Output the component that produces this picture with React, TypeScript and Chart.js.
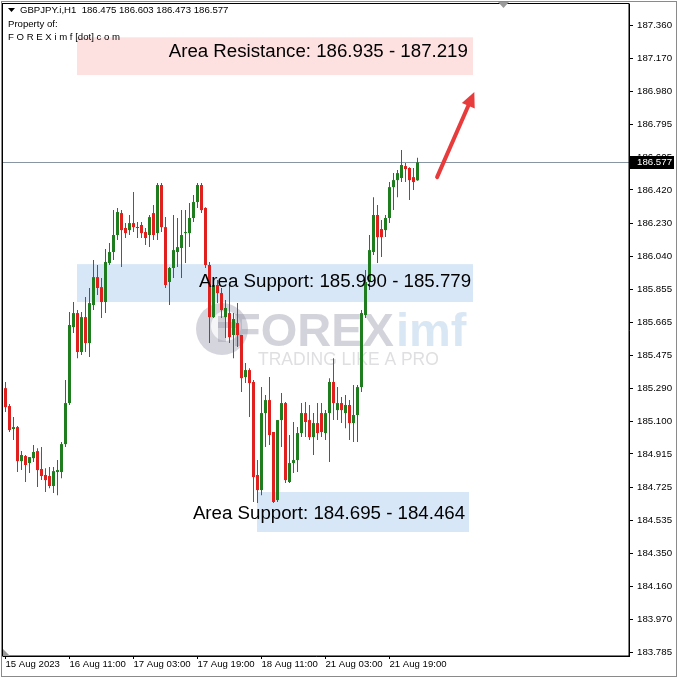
import React, { useEffect, useRef } from "react";
import { Chart, registerables } from "chart.js";

Chart.register(...registerables);

// ---- data (GBPJPY.i, H1, first bar 15 Aug 2023 19:00) ----
const opens = [
  185.290, 185.188, 185.057, 185.068, 184.874, 184.903, 184.863, 184.891, 184.931, 184.829,
  184.795, 184.789, 184.732, 184.812, 184.812, 184.971, 185.205, 185.638, 185.718, 185.496,
  185.695, 185.547, 185.764, 185.923, 185.866, 185.781, 186.003, 186.066, 186.163, 186.288,
  186.203, 186.191, 186.231, 186.203, 186.220, 186.180, 186.163, 186.288, 186.174, 186.448,
  186.208, 185.895, 185.975, 186.066, 186.089, 186.174, 186.174, 186.260, 186.351, 186.448,
  186.317, 185.992, 185.695, 185.878, 185.832, 185.695, 185.718, 185.593, 185.661, 185.593,
  185.353, 185.393, 185.325, 184.795, 184.709, 185.148, 185.222, 185.040, 184.652, 185.108,
  185.205, 184.755, 184.863, 184.880, 185.034, 185.148, 185.108, 185.011, 185.091, 185.148,
  185.034, 185.148, 185.325, 185.165, 185.205, 185.148, 185.194, 185.091, 185.137, 185.296,
  185.707, 185.895, 186.066, 186.277, 186.197, 186.191, 186.260, 186.436, 186.476, 186.488,
  186.556, 186.545, 186.493, 186.475,
];
const highs = [
  185.325, 185.199, 185.125, 185.074, 184.931, 184.909, 184.897, 184.966, 184.948, 184.954,
  184.834, 184.840, 184.840, 184.880, 184.983, 185.336, 185.724, 185.781, 185.735, 185.724,
  185.809, 185.861, 186.020, 185.992, 185.918, 186.083, 186.117, 186.305, 186.317, 186.305,
  186.231, 186.277, 186.408, 186.237, 186.237, 186.203, 186.277, 186.334, 186.459, 186.459,
  186.265, 185.980, 186.277, 186.260, 186.305, 186.305, 186.345, 186.391, 186.459, 186.459,
  186.322, 186.009, 185.889, 185.906, 185.861, 185.792, 185.878, 185.718, 185.775, 185.593,
  185.433, 185.404, 185.336, 184.880, 185.296, 185.251, 185.353, 185.040, 185.108, 185.262,
  185.211, 185.023, 185.097, 185.068, 185.205, 185.211, 185.194, 185.148, 185.205, 185.205,
  185.165, 185.347, 185.461, 185.296, 185.239, 185.251, 185.222, 185.308, 185.308, 185.735,
  185.963, 186.163, 186.379, 186.334, 186.248, 186.277, 186.465, 186.516, 186.533, 186.647,
  186.573, 186.550, 186.545, 186.603,
];
const lows = [
  185.154, 185.040, 184.994, 184.812, 184.823, 184.755, 184.806, 184.869, 184.726, 184.766,
  184.698, 184.720, 184.692, 184.680, 184.777, 184.954, 185.194, 185.604, 185.461, 185.479,
  185.496, 185.467, 185.735, 185.821, 185.690, 185.718, 185.992, 186.020, 186.134, 185.980,
  186.146, 186.163, 186.180, 186.146, 186.146, 186.106, 186.094, 186.134, 186.134, 186.180,
  185.861, 185.764, 185.918, 185.980, 185.918, 186.003, 186.094, 186.237, 186.317, 186.288,
  185.975, 185.547, 185.690, 185.775, 185.690, 185.576, 185.547, 185.461, 185.524, 185.268,
  185.319, 185.125, 184.641, 184.635, 184.680, 184.954, 184.966, 184.635, 184.641, 184.954,
  184.749, 184.749, 184.806, 184.812, 185.011, 185.011, 184.994, 184.909, 184.994, 185.011,
  184.994, 184.869, 185.108, 185.108, 185.091, 185.062, 184.994, 184.983, 184.983, 185.268,
  185.690, 185.849, 186.049, 186.003, 186.037, 186.151, 186.231, 186.305, 186.379, 186.465,
  186.465, 186.362, 186.419, 186.473,
];
const closes = [
  185.182, 185.051, 185.068, 184.874, 184.909, 184.852, 184.897, 184.926, 184.823, 184.789,
  184.766, 184.732, 184.817, 184.823, 184.971, 185.205, 185.650, 185.718, 185.496, 185.695,
  185.547, 185.775, 185.923, 185.861, 185.781, 186.009, 186.066, 186.163, 186.294, 186.191,
  186.174, 186.231, 186.208, 186.208, 186.174, 186.146, 186.265, 186.163, 186.448, 186.208,
  185.878, 185.975, 186.077, 186.094, 186.163, 186.180, 186.260, 186.351, 186.448, 186.305,
  185.992, 185.695, 185.878, 185.832, 185.735, 185.747, 185.581, 185.684, 185.593, 185.347,
  185.393, 185.319, 184.783, 184.709, 185.148, 185.222, 185.023, 184.641, 185.108, 185.205,
  184.766, 184.863, 184.880, 185.034, 185.148, 185.097, 185.011, 185.091, 185.034, 185.040,
  185.148, 185.325, 185.205, 185.205, 185.165, 185.194, 185.091, 185.137, 185.296, 185.718,
  185.895, 186.077, 186.277, 186.151, 186.151, 186.260, 186.436, 186.476, 186.516, 186.562,
  186.539, 186.476, 186.465, 186.577,
];

const xTickIndex = [0, 16, 32, 48, 64, 80, 96];
const xTickLabels = [
  "15 Aug 2023", "16 Aug 11:00", "17 Aug 03:00", "17 Aug 19:00",
  "18 Aug 11:00", "21 Aug 03:00", "21 Aug 19:00",
];
const yTickValues = [
  187.360, 187.170, 186.980, 186.795, 186.605, 186.420, 186.230, 186.040, 185.855, 185.665,
  185.475, 185.290, 185.100, 184.915, 184.725, 184.535, 184.350, 184.160, 183.970, 183.785,
];
const currentPrice = 186.577;
const headerText = "GBPJPY.i,H1  186.475 186.603 186.473 186.577";

// zones (bar index range, price range) and their captions
const zoneLabels = [
  "Area Resistance: 186.935 - 187.219",
  "Area Support: 185.990 - 185.779",
  "Area Support: 184.695 - 184.464",
];
const zoneStart = [17.875, 17.875, 62.875];
const zoneEnd = [116.875, 116.875, 115.875];
const zoneTop = [187.290, 185.997, 184.698];
const zoneBottom = [187.075, 185.781, 184.470];
const zoneLabelX = [115.6, 116.4, 114.9];
const zoneLabelY = [187.206, 185.895, 184.571];

const arrowFrom = [107.9, 186.493];
const arrowTo = [117.2, 186.978];

const GREEN = "#1f7d1f";
const RED = "#e0201e";
const FONT = "'Liberation Sans', Arial, sans-serif";

const overlayPlugin = {
  id: "overlay",
  beforeDraw(chart: any) {
    const { ctx, width, height } = chart;
    ctx.save();
    ctx.fillStyle = "#ffffff";
    ctx.fillRect(0, 0, width, height);
    ctx.restore();
  },
  beforeDatasetsDraw(chart: any) {
    const { ctx, chartArea: a, scales } = chart;
    const x = scales.x, y = scales.y;
    ctx.save();
    ctx.beginPath();
    ctx.rect(a.left, a.top, a.right - a.left, a.bottom - a.top);
    ctx.clip();
    const zoneColors = ["#fde0e0", "#d7e7f7", "#d7e7f7"];
    zoneTop.forEach((t, i) => {
      const x0 = x.getPixelForValue(zoneStart[i]);
      const x1 = x.getPixelForValue(zoneEnd[i]);
      const y0 = y.getPixelForValue(t);
      const y1 = y.getPixelForValue(zoneBottom[i]);
      ctx.fillStyle = zoneColors[i];
      ctx.fillRect(x0, y0, x1 - x0, y1 - y0);
    });

    // watermark
    ctx.fillStyle = "rgba(150,150,170,0.40)";
    ctx.beginPath();
    ctx.arc(222, 329, 26, 0, Math.PI * 2);
    ctx.fill();
    ctx.fillStyle = "rgba(255,255,255,0.75)";
    ctx.beginPath();
    ctx.arc(226, 326, 15, 0, Math.PI * 2);
    ctx.fill();
    ctx.fillStyle = "rgba(150,150,170,0.40)";
    ctx.fillRect(218, 316, 8, 26);
    ctx.fillRect(218, 322, 18, 6);
    ctx.textBaseline = "alphabetic";
    ctx.textAlign = "left";
    ctx.font = `bold 47px ${FONT}`;
    ctx.fillStyle = "rgba(140,140,160,0.38)";
    ctx.fillText("FOREX", 232, 346);
    const w = ctx.measureText("FOREX").width;
    ctx.fillStyle = "rgba(120,170,215,0.28)";
    ctx.fillText("imf", 232 + w + 2, 346);
    ctx.font = `17.5px ${FONT}`;
    ctx.fillStyle = "rgba(170,170,180,0.38)";
    ctx.fillText("TRADING LIKE A PRO", 258, 365);

    // current price line
    const py = Math.round(y.getPixelForValue(currentPrice)) + 0.5;
    ctx.strokeStyle = "#8796a2";
    ctx.lineWidth = 1;
    ctx.beginPath();
    ctx.moveTo(a.left, py);
    ctx.lineTo(a.right, py);
    ctx.stroke();
    ctx.restore();
  },
  afterDatasetsDraw(chart: any) {
    const { ctx, scales } = chart;
    const x = scales.x, y = scales.y;
    ctx.save();
    ctx.font = `18.7px ${FONT}`;
    ctx.fillStyle = "#000";
    ctx.textAlign = "right";
    ctx.textBaseline = "middle";
    zoneLabels.forEach((t, i) => {
      ctx.fillText(t, x.getPixelForValue(zoneLabelX[i]), y.getPixelForValue(zoneLabelY[i]));
    });

    // arrow
    const x0 = x.getPixelForValue(arrowFrom[0]);
    const y0 = y.getPixelForValue(arrowFrom[1]);
    const x1 = x.getPixelForValue(arrowTo[0]);
    const y1 = y.getPixelForValue(arrowTo[1]);
    const ang = Math.atan2(y1 - y0, x1 - x0);
    const headLen = 15, headW = 7;
    const bx = x1 - headLen * Math.cos(ang);
    const by = y1 - headLen * Math.sin(ang);
    ctx.strokeStyle = "#e83b3c";
    ctx.fillStyle = "#e83b3c";
    ctx.lineWidth = 4;
    ctx.lineCap = "round";
    ctx.beginPath();
    ctx.moveTo(x0, y0);
    ctx.lineTo(bx, by);
    ctx.stroke();
    ctx.beginPath();
    ctx.moveTo(x1, y1);
    ctx.lineTo(bx + headW * Math.sin(ang), by - headW * Math.cos(ang));
    ctx.lineTo(bx - headW * Math.sin(ang), by + headW * Math.cos(ang));
    ctx.closePath();
    ctx.fill();
    ctx.restore();
  },
  afterDraw(chart: any) {
    const { ctx, chartArea: a, scales, width, height } = chart;
    const y = scales.y;
    ctx.save();
    // plot frame
    ctx.strokeStyle = "#000";
    ctx.lineWidth = 1;
    ctx.strokeRect(a.left - 0.5, a.top - 0.5, a.right - a.left + 0.5, a.bottom - a.top + 0.5);
    // outer border
    ctx.strokeStyle = "#8a8a8a";
    ctx.strokeRect(1.5, 1.5, width - 3, height - 3);

    // current price label
    const py = Math.round(y.getPixelForValue(currentPrice));
    ctx.fillStyle = "#000";
    ctx.fillRect(a.right + 1, py - 6, 44, 13);
    ctx.fillStyle = "#fff";
    ctx.font = `9.7px ${FONT}`;
    ctx.textAlign = "left";
    ctx.textBaseline = "middle";
    ctx.fillText(currentPrice.toFixed(3), a.right + 8, py + 0.5);

    // header texts
    ctx.fillStyle = "#000";
    ctx.beginPath();
    ctx.moveTo(8, 8);
    ctx.lineTo(15, 8);
    ctx.lineTo(11.5, 12);
    ctx.closePath();
    ctx.fill();
    ctx.font = `9.6px ${FONT}`;
    ctx.fillText(headerText, 20, 10.5);
    ctx.fillText("Property of:", 8, 24);
    ctx.fillText("F O R E X i m f [dot] c o m", 8, 37);

    // small shift markers
    ctx.fillStyle = "#9a9a9a";
    ctx.beginPath();
    ctx.moveTo(498, 2);
    ctx.lineTo(509, 2);
    ctx.lineTo(503.5, 8);
    ctx.closePath();
    ctx.fill();
    ctx.beginPath();
    ctx.moveTo(a.left, a.bottom - 7);
    ctx.lineTo(a.left, a.bottom);
    ctx.lineTo(a.left + 7, a.bottom);
    ctx.closePath();
    ctx.fill();
    ctx.restore();
  },
};

export default function App() {
  const canvasRef = useRef<HTMLCanvasElement | null>(null);

  useEffect(() => {
    document.body.style.margin = "0";
    const canvas = canvasRef.current;
    if (!canvas) return;
    const idx = opens.map((_, i) => i);
    const colors = idx.map((i) => (closes[i] >= opens[i] ? GREEN : RED));
    const chart = new Chart(canvas, {
      type: "bar",
      data: {
        datasets: [
          {
            label: "wick",
            data: idx.map((i) => ({ x: i, y: [lows[i], highs[i]] })) as any,
            backgroundColor: colors,
            barThickness: 1,
            grouped: false,
            inflateAmount: 0,
            borderWidth: 0,
            order: 2,
          } as any,
          {
            label: "body",
            data: idx.map((i) => ({
              x: i,
              y: [Math.min(opens[i], closes[i]), Math.max(opens[i], closes[i])],
            })) as any,
            backgroundColor: colors,
            barThickness: 3,
            grouped: false,
            minBarLength: 1,
            inflateAmount: 0,
            borderWidth: 0,
            order: 1,
          } as any,
        ],
      },
      options: {
        animation: false,
        responsive: false,
        devicePixelRatio: 1,
        events: [],
        layout: { padding: { left: 3, top: 4, right: 0, bottom: 0 } },
        plugins: { legend: { display: false }, tooltip: { enabled: false } },
        scales: {
          x: {
            type: "linear",
            min: -0.625,
            max: 155.875,
            offset: false,
            grid: { display: true, drawOnChartArea: false, drawTicks: true, tickLength: 3, color: "#000", offset: false },
            border: { display: true, color: "#000" },
            afterBuildTicks: (s: any) => {
              s.ticks = xTickIndex.map((v) => ({ value: v }));
            },
            afterFit: (s: any) => {
              s.height = 22;
              s.paddingLeft = 0;
              s.paddingRight = 0;
              s.paddingTop = 0;
              s.paddingBottom = 0;
            },
            ticks: {
              autoSkip: false,
              maxRotation: 0,
              minRotation: 0,
              align: "start",
              padding: 0,
              color: "#000",
              font: { family: FONT, size: 9.6 },
              callback: (v: any) => {
                const k = xTickIndex.indexOf(Number(v));
                return k >= 0 ? xTickLabels[k] : "";
              },
            },
          },
          y: {
            type: "linear",
            position: "right",
            min: 183.763,
            max: 187.48,
            grid: { display: true, drawOnChartArea: false, drawTicks: true, tickLength: 4, color: "#000" },
            border: { display: true, color: "#000" },
            afterBuildTicks: (s: any) => {
              s.ticks = yTickValues.map((v) => ({ value: v }));
            },
            afterFit: (s: any) => {
              s.width = 49;
              s.paddingLeft = 0;
              s.paddingRight = 0;
              s.paddingTop = 0;
              s.paddingBottom = 0;
            },
            ticks: {
              autoSkip: false,
              padding: 4,
              color: "#000",
              font: { family: FONT, size: 9.7 },
              callback: (v: any) => Number(v).toFixed(3),
            },
          },
        },
      } as any,
      plugins: [overlayPlugin],
    });
    return () => chart.destroy();
  }, []);

  return (
    <div style={{ width: 678, height: 678, position: "relative" }}>
      <canvas ref={canvasRef} width={678} height={678} style={{ display: "block" }} />
    </div>
  );
}
